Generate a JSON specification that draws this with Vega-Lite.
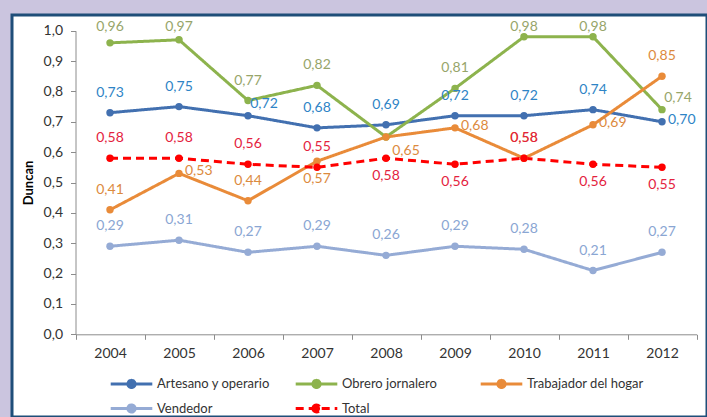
{
  "$schema": "https://vega.github.io/schema/vega-lite/v6.json",
  "width": 695,
  "height": 402,
  "autosize": {"type": "none"},
  "padding": {"left": 12, "top": 15, "right": 0, "bottom": 0},
  "background": "#cbc5df",
  "config": {
    "font": "Lato",
    "view": {"fill": "white", "stroke": "#1f4e79", "strokeWidth": 3},
    "locale": {"number": {"decimal": ",", "thousands": ".", "grouping": [3], "currency": ["", " €"]}}
  },
  "data": {"values": [
    {"year": "2004", "serie": "Artesano y operario", "value": 0.73},
    {"year": "2005", "serie": "Artesano y operario", "value": 0.75},
    {"year": "2006", "serie": "Artesano y operario", "value": 0.72},
    {"year": "2007", "serie": "Artesano y operario", "value": 0.68},
    {"year": "2008", "serie": "Artesano y operario", "value": 0.69},
    {"year": "2009", "serie": "Artesano y operario", "value": 0.72},
    {"year": "2010", "serie": "Artesano y operario", "value": 0.72},
    {"year": "2011", "serie": "Artesano y operario", "value": 0.74},
    {"year": "2012", "serie": "Artesano y operario", "value": 0.70},
    {"year": "2004", "serie": "Obrero jornalero", "value": 0.96},
    {"year": "2005", "serie": "Obrero jornalero", "value": 0.97},
    {"year": "2006", "serie": "Obrero jornalero", "value": 0.77},
    {"year": "2007", "serie": "Obrero jornalero", "value": 0.82},
    {"year": "2008", "serie": "Obrero jornalero", "value": 0.65},
    {"year": "2009", "serie": "Obrero jornalero", "value": 0.81},
    {"year": "2010", "serie": "Obrero jornalero", "value": 0.98},
    {"year": "2011", "serie": "Obrero jornalero", "value": 0.98},
    {"year": "2012", "serie": "Obrero jornalero", "value": 0.74},
    {"year": "2004", "serie": "Trabajador del hogar", "value": 0.41},
    {"year": "2005", "serie": "Trabajador del hogar", "value": 0.53},
    {"year": "2006", "serie": "Trabajador del hogar", "value": 0.44},
    {"year": "2007", "serie": "Trabajador del hogar", "value": 0.57},
    {"year": "2008", "serie": "Trabajador del hogar", "value": 0.65},
    {"year": "2009", "serie": "Trabajador del hogar", "value": 0.68},
    {"year": "2010", "serie": "Trabajador del hogar", "value": 0.58},
    {"year": "2011", "serie": "Trabajador del hogar", "value": 0.69},
    {"year": "2012", "serie": "Trabajador del hogar", "value": 0.85},
    {"year": "2004", "serie": "Vendedor", "value": 0.29},
    {"year": "2005", "serie": "Vendedor", "value": 0.31},
    {"year": "2006", "serie": "Vendedor", "value": 0.27},
    {"year": "2007", "serie": "Vendedor", "value": 0.29},
    {"year": "2008", "serie": "Vendedor", "value": 0.26},
    {"year": "2009", "serie": "Vendedor", "value": 0.29},
    {"year": "2010", "serie": "Vendedor", "value": 0.28},
    {"year": "2011", "serie": "Vendedor", "value": 0.21},
    {"year": "2012", "serie": "Vendedor", "value": 0.27},
    {"year": "2004", "serie": "Total", "value": 0.58},
    {"year": "2005", "serie": "Total", "value": 0.58},
    {"year": "2006", "serie": "Total", "value": 0.56},
    {"year": "2007", "serie": "Total", "value": 0.55},
    {"year": "2008", "serie": "Total", "value": 0.58},
    {"year": "2009", "serie": "Total", "value": 0.56},
    {"year": "2010", "serie": "Total", "value": 0.58},
    {"year": "2011", "serie": "Total", "value": 0.56},
    {"year": "2012", "serie": "Total", "value": 0.55}
  ]},
  "encoding": {
    "x": {
      "field": "year", "type": "ordinal",
      "scale": {"type": "band", "range": [63.5, 684.5], "paddingInner": 0, "paddingOuter": 0},
      "axis": {"title": null, "labelAngle": 0, "offset": -82.7, "tickBand": "extent", "tickSize": 5,
               "domainColor": "#8c8c8c", "tickColor": "#8c8c8c", "labelFontSize": 14, "labelColor": "#333333",
               "labelPadding": 7, "grid": false}
    },
    "y": {
      "field": "value", "type": "quantitative",
      "scale": {"domain": [0, 1], "range": [319.3, 15.7], "nice": false},
      "axis": {"title": "Duncan", "offset": -63.5, "values": [0, 0.1, 0.2, 0.3, 0.4, 0.5, 0.6, 0.7, 0.8, 0.9, 1.0],
               "format": ".1f", "grid": false, "tickSize": 5, "domainColor": "#8c8c8c", "tickColor": "#8c8c8c",
               "labelFontSize": 14, "labelColor": "#333333", "labelPadding": 8,
               "titleFontSize": 13, "titleFontWeight": "bold", "titleColor": "#000000", "titlePadding": 8}
    }
  },
  "layer": [
    {
      "mark": {"type": "line", "strokeWidth": 3},
      "encoding": {
        "color": {"field": "serie", "type": "nominal",
          "scale": {"domain": ["Artesano y operario", "Obrero jornalero", "Trabajador del hogar", "Vendedor", "Total"],
                    "range": ["#4270b0", "#8db34d", "#e98b39", "#95abd5", "#ff0000"]},
          "legend": {"title": null, "orient": "none", "legendX": 110, "legendY": 359, "columns": 3, "direction": "horizontal",
                     "labelFontSize": 13, "labelColor": "#333333", "columnPadding": 15, "rowPadding": 4,
                     "symbolType": "M-2.6,0H2.6M-0.45,0A0.45,0.45,0,1,0,0.45,0A0.45,0.45,0,1,0,-0.45,0Z",
                     "symbolSize": 256, "symbolStrokeWidth": 3, "labelOffset": 16, "gridAlign": "all"}},
        "strokeDash": {"field": "serie", "type": "nominal",
          "scale": {"domain": ["Artesano y operario", "Obrero jornalero", "Trabajador del hogar", "Vendedor", "Total"],
                    "range": [[1, 0], [1, 0], [1, 0], [1, 0], [8, 5]]},
          "legend": {"title": null, "orient": "none", "legendX": 110, "legendY": 359, "columns": 3, "direction": "horizontal",
                     "labelFontSize": 13, "labelColor": "#333333", "columnPadding": 15, "rowPadding": 4,
                     "symbolType": "M-2.6,0H2.6M-0.45,0A0.45,0.45,0,1,0,0.45,0A0.45,0.45,0,1,0,-0.45,0Z",
                     "symbolSize": 256, "symbolStrokeWidth": 3, "labelOffset": 16, "gridAlign": "all"}}
      }
    },
    {
      "mark": {"type": "point", "filled": true, "size": 55, "opacity": 1},
      "encoding": {
        "color": {"field": "serie", "type": "nominal"}
      }
    },
    {
      "transform": [{"filter": "indexof(['Artesano y operario|2006','Artesano y operario|2012','Obrero jornalero|2004','Obrero jornalero|2005','Obrero jornalero|2008','Obrero jornalero|2010','Obrero jornalero|2011','Obrero jornalero|2012','Trabajador del hogar|2005','Trabajador del hogar|2007','Trabajador del hogar|2008','Trabajador del hogar|2009','Trabajador del hogar|2011','Total|2008','Total|2009','Total|2011','Total|2012'], datum.serie + '|' + datum.year) < 0"}],
      "mark": {"type": "text", "fontSize": 14, "dy": -20, "baseline": "middle"},
      "encoding": {
        "text": {"field": "value", "type": "quantitative", "format": ".2f"},
        "fill": {"field": "serie", "type": "nominal", "legend": null,
          "scale": {"domain": ["Artesano y operario", "Obrero jornalero", "Trabajador del hogar", "Vendedor", "Total"],
                    "range": ["#2e84c6", "#97a56a", "#dc8a3e", "#8aa6d3", "#e4223e"]}}
      }
    },
    {
      "transform": [{"filter": "indexof(['Obrero jornalero|2004','Obrero jornalero|2005','Obrero jornalero|2010','Obrero jornalero|2011'], datum.serie + '|' + datum.year) >= 0"}],
      "mark": {"type": "text", "fontSize": 14, "dy": -4, "baseline": "middle"},
      "encoding": {
        "y": {"datum": 1},
        "text": {"field": "value", "type": "quantitative", "format": ".2f"},
        "fill": {"field": "serie", "type": "nominal", "legend": null}
      }
    },
    {
      "transform": [{"filter": "indexof(['Trabajador del hogar|2007','Total|2008','Total|2009','Total|2011','Total|2012'], datum.serie + '|' + datum.year) >= 0"}],
      "mark": {"type": "text", "fontSize": 14, "dy": 18, "baseline": "middle"},
      "encoding": {
        "text": {"field": "value", "type": "quantitative", "format": ".2f"},
        "fill": {"field": "serie", "type": "nominal", "legend": null}
      }
    },
    {
      "transform": [{"filter": "indexof(['Artesano y operario|2012','Trabajador del hogar|2005','Trabajador del hogar|2009','Trabajador del hogar|2011'], datum.serie + '|' + datum.year) >= 0"}],
      "mark": {"type": "text", "fontSize": 14, "dx": 6, "dy": -2, "align": "left", "baseline": "middle"},
      "encoding": {
        "text": {"field": "value", "type": "quantitative", "format": ".2f"},
        "fill": {"field": "serie", "type": "nominal", "legend": null}
      }
    },
    {
      "transform": [{"filter": "indexof(['Artesano y operario|2006','Obrero jornalero|2012'], datum.serie + '|' + datum.year) >= 0"}],
      "mark": {"type": "text", "fontSize": 14, "dx": 16, "dy": -12, "baseline": "middle"},
      "encoding": {
        "text": {"field": "value", "type": "quantitative", "format": ".2f"},
        "fill": {"field": "serie", "type": "nominal", "legend": null}
      }
    },
    {
      "transform": [{"filter": "datum.serie == 'Trabajador del hogar' && datum.year == '2008'"}],
      "mark": {"type": "text", "fontSize": 14, "dx": 20, "dy": 14, "baseline": "middle"},
      "encoding": {
        "text": {"field": "value", "type": "quantitative", "format": ".2f"},
        "fill": {"field": "serie", "type": "nominal", "legend": null}
      }
    }
  ]
}
